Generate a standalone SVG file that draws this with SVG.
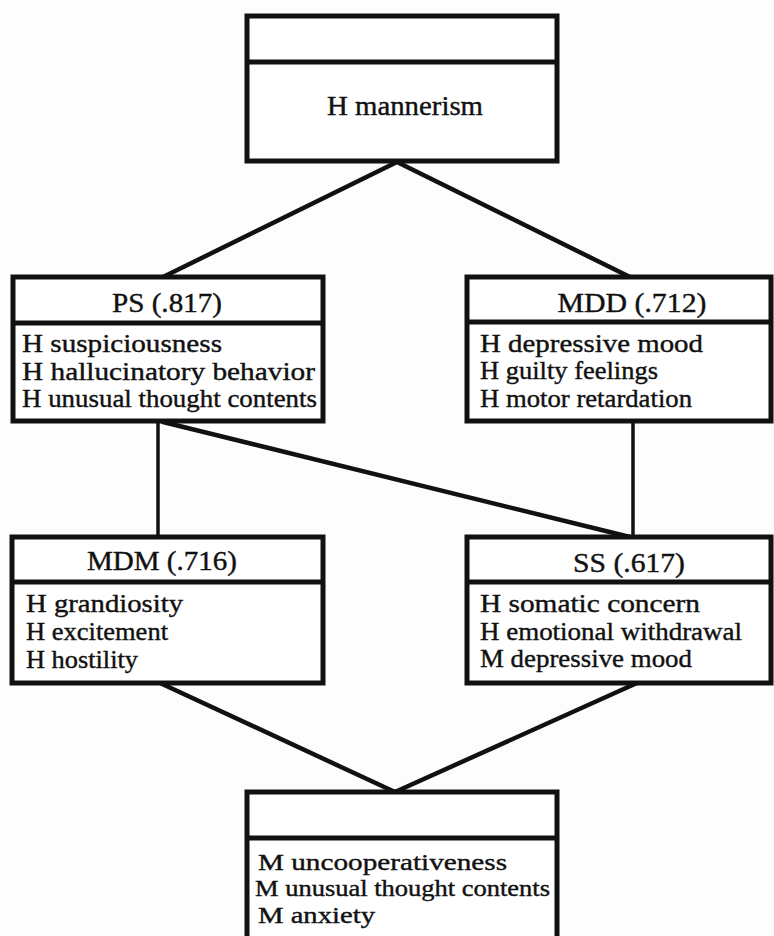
<svg xmlns="http://www.w3.org/2000/svg" width="774" height="936" viewBox="0 0 774 936">
<style>
.box{fill:#fff;stroke:#111;stroke-width:5}
.div{stroke:#111;stroke-width:5}
.edge{stroke:#111;stroke-width:4.5;fill:none;stroke-linecap:round}
.vedge{stroke:#111;stroke-width:3.5;fill:none}
text{fill:#111;stroke:#111;stroke-width:0.4}
.t{font-size:28px;text-anchor:middle}
.b{font-size:26px}
.s{font-size:24px}
</style>
<rect width="774" height="936" fill="#fdfdfd"/>
<g id="connectors">
<line class="edge" x1="397" y1="162" x2="163" y2="277"/>
<line class="edge" x1="397" y1="162" x2="630" y2="277"/>
<line class="vedge" x1="158" y1="422" x2="158" y2="537"/>
<line class="edge" x1="163" y1="422" x2="630" y2="537"/>
<line class="vedge" x1="633" y1="420" x2="633" y2="537"/>
<line class="edge" x1="160" y1="683" x2="395" y2="792"/>
<line class="edge" x1="637" y1="683" x2="395" y2="792"/>
</g>
<g font-family="Liberation Serif, Times New Roman, serif">
<g id="top">
<rect class="box" x="247" y="16" width="310" height="145"/>
<line class="div" x1="247" y1="62" x2="557" y2="62"/>
<text class="t" x="405" y="115" textLength="156" lengthAdjust="spacingAndGlyphs">H mannerism</text>
</g>
<g id="ps">
<rect class="box" x="13" y="277" width="310" height="144"/>
<line class="div" x1="13" y1="323" x2="323" y2="323"/>
<text class="t" x="167" y="312" textLength="110" lengthAdjust="spacingAndGlyphs">PS (.817)</text>
<text class="b" x="22" y="352" textLength="200" lengthAdjust="spacingAndGlyphs">H suspiciousness</text>
<text class="b" x="22" y="380" textLength="293" lengthAdjust="spacingAndGlyphs">H hallucinatory behavior</text>
<text class="b" x="22" y="407" textLength="295" lengthAdjust="spacingAndGlyphs">H unusual thought contents</text>
</g>
<g id="mdd">
<rect class="box" x="467" y="277" width="304" height="144"/>
<line class="div" x1="467" y1="322" x2="771" y2="322"/>
<text class="t" x="632" y="312" textLength="149" lengthAdjust="spacingAndGlyphs">MDD (.712)</text>
<text class="b" x="480" y="352" textLength="223" lengthAdjust="spacingAndGlyphs">H depressive mood</text>
<text class="b" x="480" y="379" textLength="178" lengthAdjust="spacingAndGlyphs">H guilty feelings</text>
<text class="b" x="480" y="407" textLength="212" lengthAdjust="spacingAndGlyphs">H motor retardation</text>
</g>
<g id="mdm">
<rect class="box" x="12" y="537" width="311" height="146"/>
<line class="div" x1="12" y1="582" x2="323" y2="582"/>
<text class="t" x="162" y="570" textLength="150" lengthAdjust="spacingAndGlyphs">MDM (.716)</text>
<text class="b" x="26" y="612" textLength="157" lengthAdjust="spacingAndGlyphs">H grandiosity</text>
<text class="b" x="26" y="640" textLength="142" lengthAdjust="spacingAndGlyphs">H excitement</text>
<text class="b" x="26" y="668" textLength="112" lengthAdjust="spacingAndGlyphs">H hostility</text>
</g>
<g id="ss">
<rect class="box" x="467" y="537" width="304" height="146"/>
<line class="div" x1="467" y1="582" x2="771" y2="582"/>
<text class="t" x="629" y="572" textLength="112" lengthAdjust="spacingAndGlyphs">SS (.617)</text>
<text class="b" x="480" y="612" textLength="220" lengthAdjust="spacingAndGlyphs">H somatic concern</text>
<text class="b" x="480" y="640" textLength="262" lengthAdjust="spacingAndGlyphs">H emotional withdrawal</text>
<text class="b" x="480" y="667" textLength="212" lengthAdjust="spacingAndGlyphs">M depressive mood</text>
</g>
<g id="bottom">
<rect class="box" x="247" y="792" width="310" height="160"/>
<line class="div" x1="247" y1="838" x2="557" y2="838"/>
<text class="s" x="258" y="870" textLength="249" lengthAdjust="spacingAndGlyphs">M uncooperativeness</text>
<text class="s" x="255" y="896" textLength="295" lengthAdjust="spacingAndGlyphs">M unusual thought contents</text>
<text class="s" x="258" y="923" textLength="117" lengthAdjust="spacingAndGlyphs">M anxiety</text>
</g>
</g>
</svg>
